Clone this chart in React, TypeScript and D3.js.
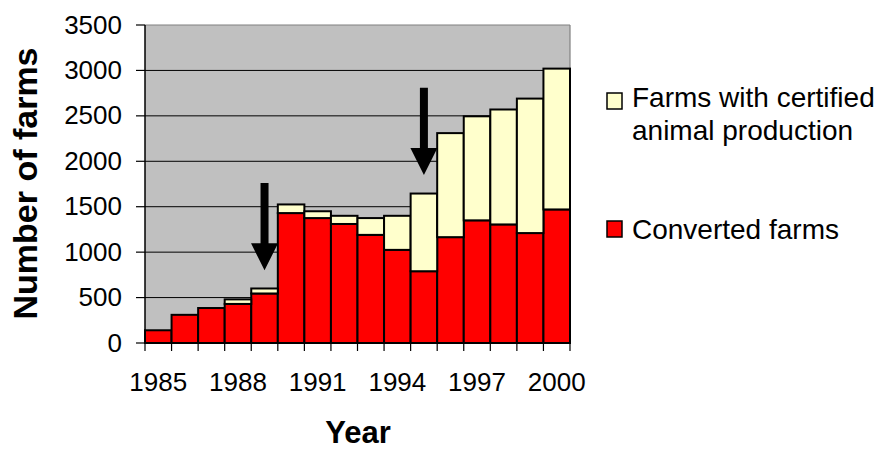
import React from "react";
import * as d3 from "d3";

const years: number[] = [1985, 1986, 1987, 1988, 1989, 1990, 1991, 1992, 1993, 1994, 1995, 1996, 1997, 1998, 1999, 2000];
const converted: number[] = [140, 310, 385, 430, 545, 1430, 1375, 1310, 1190, 1025, 790, 1165, 1350, 1305, 1210, 1470];
const certified: number[] = [0, 0, 0, 50, 55, 95, 75, 90, 185, 375, 855, 1145, 1145, 1265, 1480, 1550];
const yTicks: number[] = [0, 500, 1000, 1500, 2000, 2500, 3000, 3500];
const xLabelYears: number[] = [1985, 1988, 1991, 1994, 1997, 2000];
const arrowYears: number[] = [1989, 1995];
const arrowTip: number[] = [800, 1850];
const arrowTail: number[] = [1760, 2810];

const W = 880, H = 451;
const L = 145, R = 570, T = 25, B = 343;
const FONT = "'Liberation Sans', Arial, sans-serif";

export default function App() {
  const x = d3.scaleBand<number>().domain(years).range([L, R]).paddingInner(0).paddingOuter(0);
  const y = d3.scaleLinear().domain([0, 3500]).range([B, T]);
  const bw = x.bandwidth();

  const stack = d3.stack<number>()
    .keys(["converted", "certified"])
    .value((i, k) => (k === "converted" ? converted[i] : certified[i]));
  const series = stack(years.map((_, i) => i));
  const colors = ["#FF0000", "#FFFFCC"];

  return (
    <svg width={W} height={H} style={{ position: "absolute", left: 0, top: 0 }} fontFamily={FONT}>
      <rect x={0} y={0} width={W} height={H} fill="#fff" />
      <rect x={L} y={T} width={R - L} height={B - T} fill="#C0C0C0" />
      {yTicks.filter(t => t > 0 && t < 3500).map(t => (
        <line key={t} x1={L} x2={R} y1={y(t)} y2={y(t)} stroke="#000" strokeWidth={1} />
      ))}
      <line x1={L} x2={R} y1={T} y2={T} stroke="#808080" strokeWidth={1.2} />
      <line x1={R} x2={R} y1={T} y2={B} stroke="#808080" strokeWidth={1.2} />
      {series.map((s, si) => (
        <g key={si}>
          {s.map((d, i) => (d[1] - d[0] > 0 ? (
            <rect key={i} x={x(years[i])!} y={y(d[1])} width={bw} height={y(d[0]) - y(d[1])}
              fill={colors[si]} stroke="#000" strokeWidth={2} />
          ) : null))}
        </g>
      ))}
      {/* axes */}
      <line x1={L} x2={L} y1={T} y2={B} stroke="#000" strokeWidth={1.5} />
      <line x1={L} x2={R} y1={B} y2={B} stroke="#000" strokeWidth={1.5} />
      {yTicks.map(t => (
        <g key={t}>
          <line x1={L - 9} x2={L} y1={y(t)} y2={y(t)} stroke="#000" strokeWidth={1.2} />
          <text x={122} y={y(t)} dy="0.33em" textAnchor="end" fontSize={26} fill="#000">{t}</text>
        </g>
      ))}
      {years.concat([years[years.length - 1] + 1]).map((yr, i) => {
        const xx = i < years.length ? x(yr)! : R;
        return <line key={i} x1={xx} x2={xx} y1={B} y2={B + 8} stroke="#000" strokeWidth={1.2} />;
      })}
      {xLabelYears.map(yr => (
        <text key={yr} x={x(yr)! + bw / 2} y={391} textAnchor="middle" fontSize={26} fill="#000">{yr}</text>
      ))}
      {/* arrows */}
      {arrowYears.map((yr, i) => {
        const cx = x(yr)! + bw / 2;
        const tip = y(arrowTip[i]);
        const tail = y(arrowTail[i]);
        const hh = 27, hw = 13.5, sw = 4;
        const p = `M${cx - sw},${tail} L${cx + sw},${tail} L${cx + sw},${tip - hh} L${cx + hw},${tip - hh} L${cx},${tip} L${cx - hw},${tip - hh} L${cx - sw},${tip - hh} Z`;
        return <path key={yr} d={p} fill="#000" />;
      })}
      {/* axis titles */}
      <text transform={`translate(37,183.5) rotate(-90)`} textAnchor="middle" fontSize={34} fontWeight="bold" fill="#000">Number of farms</text>
      <text x={358} y={443} textAnchor="middle" fontSize={31} fontWeight="bold" fill="#000">Year</text>
      {/* legend */}
      <rect x={607} y={93} width={15} height={16} fill="#FFFFCC" stroke="#000" strokeWidth={1.5} />
      <text x={632} y={106.5} fontSize={28} fill="#000">Farms with certified</text>
      <text x={632} y={140} fontSize={28} fill="#000">animal production</text>
      <rect x={607} y={221} width={15} height={16} fill="#FF0000" stroke="#000" strokeWidth={1.5} />
      <text x={632} y={239} fontSize={28} fill="#000">Converted farms</text>
    </svg>
  );
}
